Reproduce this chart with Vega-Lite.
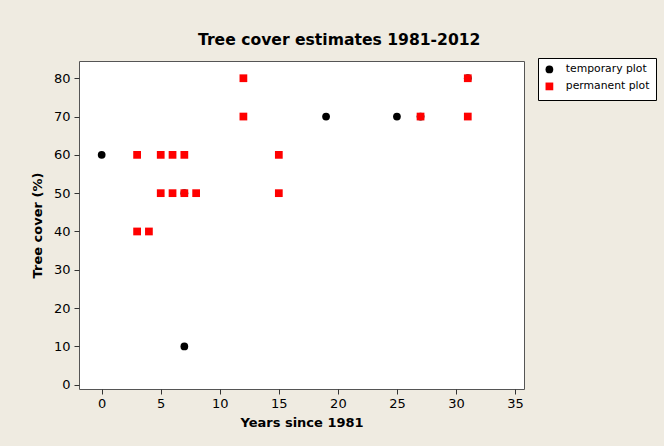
{
  "$schema": "https://vega.github.io/schema/vega-lite/v6.json",
  "width": 445,
  "height": 328,
  "autosize": "none",
  "padding": {"left": 79, "top": 61, "right": 140, "bottom": 57},
  "background": "#EFEBE1",
  "config": {
    "view": {"stroke": "#555555", "strokeWidth": 1, "fill": "white"},
    "font": "DejaVu Sans"
  },
  "title": {
    "text": "Tree cover estimates 1981-2012",
    "anchor": "start",
    "frame": "group",
    "dx": 119,
    "offset": -3,
    "baseline": "alphabetic",
    "font": "DejaVu Sans",
    "fontSize": 15.6,
    "fontWeight": "bold",
    "color": "#000000"
  },
  "data": {
    "values": [
      {"years": 0, "cover": 60, "plot": "temporary plot"},
      {"years": 7, "cover": 50, "plot": "temporary plot"},
      {"years": 7, "cover": 10, "plot": "temporary plot"},
      {"years": 19, "cover": 70, "plot": "temporary plot"},
      {"years": 25, "cover": 70, "plot": "temporary plot"},
      {"years": 27, "cover": 70, "plot": "temporary plot"},
      {"years": 31, "cover": 80, "plot": "temporary plot"},
      {"years": 3, "cover": 60, "plot": "permanent plot"},
      {"years": 5, "cover": 60, "plot": "permanent plot"},
      {"years": 6, "cover": 60, "plot": "permanent plot"},
      {"years": 7, "cover": 60, "plot": "permanent plot"},
      {"years": 12, "cover": 80, "plot": "permanent plot"},
      {"years": 12, "cover": 70, "plot": "permanent plot"},
      {"years": 5, "cover": 50, "plot": "permanent plot"},
      {"years": 6, "cover": 50, "plot": "permanent plot"},
      {"years": 7, "cover": 50, "plot": "permanent plot"},
      {"years": 8, "cover": 50, "plot": "permanent plot"},
      {"years": 3, "cover": 40, "plot": "permanent plot"},
      {"years": 4, "cover": 40, "plot": "permanent plot"},
      {"years": 15, "cover": 60, "plot": "permanent plot"},
      {"years": 15, "cover": 50, "plot": "permanent plot"},
      {"years": 27, "cover": 70, "plot": "permanent plot"},
      {"years": 31, "cover": 80, "plot": "permanent plot"},
      {"years": 31, "cover": 70, "plot": "permanent plot"}
    ]
  },
  "mark": {"type": "point", "filled": true, "opacity": 1, "size": 60},
  "encoding": {
    "x": {
      "field": "years",
      "type": "quantitative",
      "scale": {"domain": [-1.92, 35.76], "nice": false, "zero": false},
      "axis": {
        "title": "Years since 1981",
        "values": [0, 5, 10, 15, 20, 25, 30, 35],
        "grid": false,
        "domain": false,
        "tickSize": 5,
        "tickColor": "#333333",
        "labelFont": "DejaVu Sans",
        "labelFontSize": 13,
        "labelColor": "#000000",
        "labelPadding": 3,
        "titleFont": "DejaVu Sans",
        "titleFontSize": 13,
        "titleFontWeight": "bold",
        "titleColor": "#000000",
        "titlePadding": 6
      }
    },
    "y": {
      "field": "cover",
      "type": "quantitative",
      "scale": {"domain": [-1.12, 84.5], "nice": false, "zero": false},
      "axis": {
        "title": "Tree cover (%)",
        "values": [0, 10, 20, 30, 40, 50, 60, 70, 80],
        "grid": false,
        "domain": false,
        "tickSize": 5,
        "tickColor": "#333333",
        "labelFont": "DejaVu Sans",
        "labelFontSize": 13,
        "labelColor": "#000000",
        "labelPadding": 4,
        "titleFont": "DejaVu Sans",
        "titleFontSize": 13,
        "titleFontWeight": "bold",
        "titleColor": "#000000",
        "titlePadding": 9
      }
    },
    "shape": {
      "field": "plot",
      "type": "nominal",
      "scale": {"domain": ["temporary plot", "permanent plot"], "range": ["circle", "square"]}
    },
    "color": {
      "field": "plot",
      "type": "nominal",
      "scale": {"domain": ["temporary plot", "permanent plot"], "range": ["#000000", "#FF0000"]},
      "legend": {
        "title": null,
        "orient": "none",
        "legendX": 459,
        "legendY": -3,
        "fillColor": "white",
        "strokeColor": "#000000",
        "padding": 6,
        "labelFont": "DejaVu Sans",
        "labelFontSize": 10.8,
        "labelColor": "#000000",
        "labelOffset": 11,
        "symbolSize": 60,
        "symbolOpacity": 1,
        "rowPadding": 2
      }
    }
  }
}
